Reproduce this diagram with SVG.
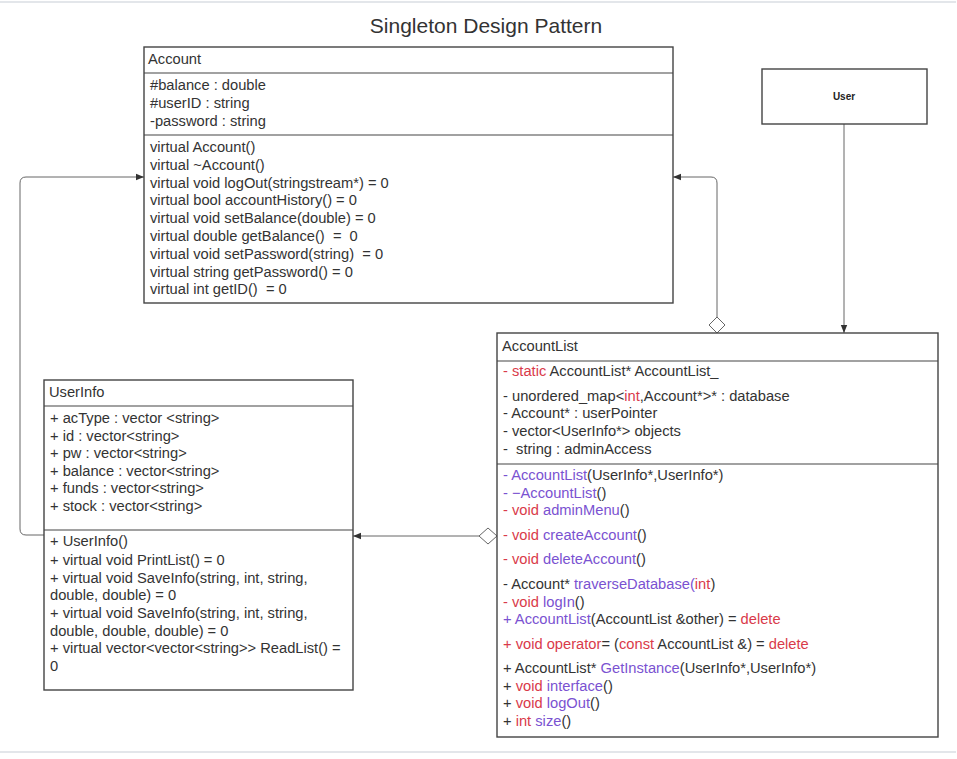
<svg xmlns="http://www.w3.org/2000/svg" width="957" height="759" viewBox="0 0 957 759">
<defs>
<style>
text{font-family:"Liberation Sans",Arial,sans-serif;font-size:14.7px;fill:#333;white-space:pre}
.title{font-size:21px;fill:#333}
.r{fill:#d93a4a}
.p{fill:#7a52d1}
.box{fill:#fff;stroke:#444;stroke-width:1.4}
.div{stroke:#444;stroke-width:1.2}
.conn{fill:none;stroke:#666;stroke-width:1}
.dia{fill:#fff;stroke:#666;stroke-width:1}
.frame{stroke:#e3e6ea;stroke-width:2}
</style>
<marker id="arr" viewBox="0 0 10 10" refX="10" refY="5" markerWidth="8" markerHeight="8" markerUnits="userSpaceOnUse" orient="auto">
<path d="M0,1 L10,5 L0,9 Z" fill="#333"/>
</marker>
</defs>
<rect width="957" height="759" fill="#fff"/>
<line class="frame" x1="0" y1="2" x2="956" y2="2"/>
<line class="frame" x1="0" y1="752" x2="956" y2="752"/>
<text class="title" x="486" y="33" text-anchor="middle">Singleton Design Pattern</text>

<g id="connectors">
<path class="conn" d="M44 535 H26 Q20 535 20 529 V183 Q20 177 26 177 H144" marker-end="url(#arr)"/>
<path class="conn" d="M717 317 V183 Q717 177 711 177 H673" marker-end="url(#arr)"/>
<polygon class="dia" points="717,317 725,325 717,333 709,325"/>
<path class="conn" d="M479 536 H353" marker-end="url(#arr)"/>
<polygon class="dia" points="497,536 488,528 479,536 488,544"/>
<path class="conn" d="M844 124 V333" stroke="#444" marker-end="url(#arr)"/>
</g>

<g id="account">
<rect class="box" x="144" y="47" width="529" height="256"/>
<line class="div" x1="144" y1="73" x2="673" y2="73"/>
<line class="div" x1="144" y1="135" x2="673" y2="135"/>
<text x="148" y="64">Account</text>
<text x="150" y="90">#balance : double</text>
<text x="150" y="108">#userID : string</text>
<text x="150" y="126">-password : string</text>
<text x="150" y="152">virtual Account()</text>
<text x="150" y="170">virtual ~Account()</text>
<text x="150" y="188">virtual void logOut(stringstream*) = 0</text>
<text x="150" y="205">virtual bool accountHistory() = 0</text>
<text x="150" y="223">virtual void setBalance(double) = 0</text>
<text x="150" y="241">virtual double getBalance()  =  0</text>
<text x="150" y="259">virtual void setPassword(string)  = 0</text>
<text x="150" y="277">virtual string getPassword() = 0</text>
<text x="150" y="294">virtual int getID()  = 0</text>
</g>

<g id="user">
<rect class="box" x="762" y="69" width="165" height="55"/>
<text x="844" y="100" text-anchor="middle" style="font-size:10px;font-weight:bold;fill:#222">User</text>
</g>

<g id="accountlist">
<rect class="box" x="497" y="333" width="441" height="404"/>
<line class="div" x1="497" y1="361" x2="938" y2="361"/>
<line class="div" x1="497" y1="464" x2="938" y2="464"/>
<text x="502" y="351">AccountList</text>
<text x="503" y="376"><tspan class="r">- static</tspan> AccountList* AccountList_</text>
<text x="503" y="401">- unordered_map&lt;<tspan class="r">int</tspan>,Account*&gt;* : database</text>
<text x="503" y="418">- Account* : userPointer</text>
<text x="503" y="436">- vector&lt;UserInfo*&gt; objects</text>
<text x="503" y="454">-  string : adminAccess</text>
<text x="503" y="480"><tspan class="p">- AccountList</tspan>(UserInfo*,UserInfo*)</text>
<text x="503" y="498"><tspan class="p">- −AccountList</tspan>()</text>
<text x="503" y="515"><tspan class="r">- void</tspan><tspan class="p"> adminMenu</tspan>()</text>
<text x="503" y="540"><tspan class="r">- void</tspan><tspan class="p"> createAccount</tspan>()</text>
<text x="503" y="564"><tspan class="r">- void</tspan><tspan class="p"> deleteAccount</tspan>()</text>
<text x="503" y="589">- Account* <tspan class="p">traverseDatabase(</tspan><tspan class="r">int</tspan>)</text>
<text x="503" y="607"><tspan class="r">- void</tspan><tspan class="p"> logIn</tspan>()</text>
<text x="503" y="624"><tspan class="p">+ AccountList</tspan>(AccountList &amp;other) = <tspan class="r">delete</tspan></text>
<text x="503" y="649"><tspan class="r">+ void operator</tspan>= (<tspan class="r">const</tspan> AccountList &amp;) = <tspan class="r">delete</tspan></text>
<text x="503" y="673">+ AccountList* <tspan class="p">GetInstance</tspan>(UserInfo*,UserInfo*)</text>
<text x="503" y="691">+ <tspan class="r">void</tspan><tspan class="p"> interface</tspan>()</text>
<text x="503" y="708">+ <tspan class="r">void</tspan><tspan class="p"> logOut</tspan>()</text>
<text x="503" y="726">+ <tspan class="r">int</tspan><tspan class="p"> size</tspan>()</text>
</g>

<g id="userinfo">
<rect class="box" x="44" y="380" width="309" height="310"/>
<line class="div" x1="44" y1="406" x2="353" y2="406"/>
<line class="div" x1="44" y1="530" x2="353" y2="530"/>
<text x="49" y="397">UserInfo</text>
<text x="50" y="423">+ acType : vector &lt;string&gt;</text>
<text x="50" y="441">+ id : vector&lt;string&gt;</text>
<text x="50" y="458">+ pw : vector&lt;string&gt;</text>
<text x="50" y="476">+ balance : vector&lt;string&gt;</text>
<text x="50" y="493">+ funds : vector&lt;string&gt;</text>
<text x="50" y="511">+ stock : vector&lt;string&gt;</text>
<text x="50" y="546">+ UserInfo()</text>
<text x="50" y="565">+ virtual void PrintList() = 0</text>
<text x="50" y="583">+ virtual void SaveInfo(string, int, string,</text>
<text x="50" y="600">double, double) = 0</text>
<text x="50" y="618">+ virtual void SaveInfo(string, int, string,</text>
<text x="50" y="636">double, double, double) = 0</text>
<text x="50" y="653">+ virtual vector&lt;vector&lt;string&gt;&gt; ReadList() =</text>
<text x="50" y="671">0</text>
</g>
</svg>
